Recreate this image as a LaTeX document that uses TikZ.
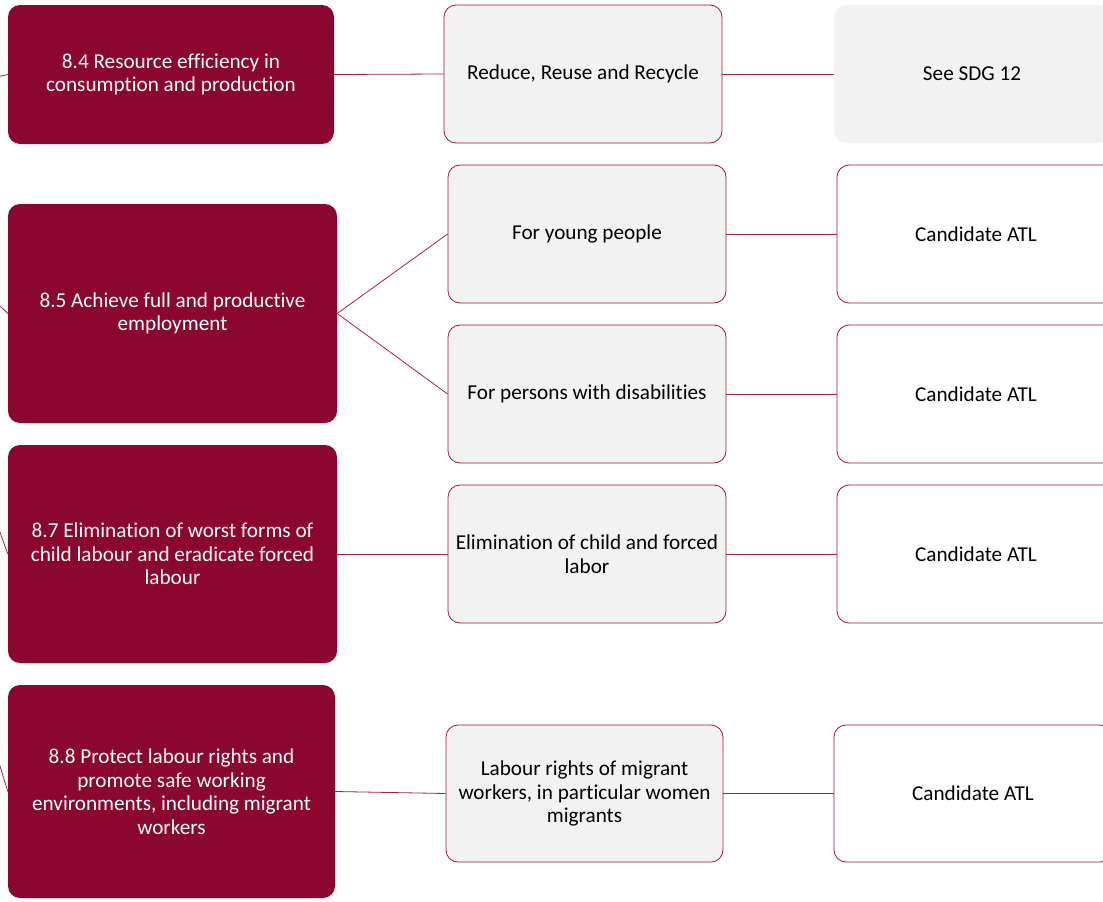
\documentclass[tikz,border=0pt]{standalone}
\usepackage{fontspec}
\setmainfont[Ligatures=NoCommon]{Carlito}
\definecolor{wine}{HTML}{8C0730}
\definecolor{lnk}{HTML}{A3223F}
\definecolor{edge}{HTML}{9B1B30}
\definecolor{pale}{HTML}{F2F2F2}
\tikzset{
  base/.style={rounded corners=12pt, align=center, inner sep=2pt,
    font=\fontsize{21.2}{23.5}\selectfont},
  dark/.style={base, fill=wine, text=white, draw=none},
  mid/.style={base, fill=pale, draw=edge, line width=0.8pt, text=black},
  see/.style={base, fill=pale, draw=none, text=black},
  cand/.style={base, fill=white, draw=edge, line width=0.8pt, text=black},
  link/.style={draw=lnk, line width=0.8pt},
}
\begin{document}
\begin{tikzpicture}[x=1pt,y=-1pt]
\useasboundingbox (0,0) rectangle (1103,902);
\clip (0,0) rectangle (1103,902);
% left column
\node[dark, minimum width=326pt, minimum height=139pt] (t84) at (171,74.5) {8.4 Resource efficiency in\\consumption and production};
\node[dark, minimum width=329pt, minimum height=219pt] (t85) at (172.5,313.5) {8.5 Achieve full and productive\\employment};
\node[dark, minimum width=329pt, minimum height=218pt] (t87) at (172.5,554) {8.7 Elimination of worst forms of\\child labour and eradicate forced\\labour};
\node[dark, minimum width=327pt, minimum height=213pt] (t88) at (171.5,791.5) {8.8 Protect labour rights and\\promote safe working\\environments, including migrant\\workers};
% middle column
\node[mid, minimum width=278pt, minimum height=138pt] (m84) at (583,74) {Reduce, Reuse and Recycle};
\node[mid, minimum width=278pt, minimum height=138pt] (m85a) at (587,234) {For young people};
\node[mid, minimum width=278pt, minimum height=138pt] (m85b) at (587,394) {For persons with disabilities};
\node[mid, minimum width=278pt, minimum height=138pt] (m87) at (587,554) {Elimination of child and forced\\labor};
\node[mid, minimum width=277pt, minimum height=137pt] (m88) at (584.5,793.5) {Labour rights of migrant\\workers, in particular women\\migrants};
% right column
\node[see, minimum width=276pt, minimum height=138pt] (r84) at (972,74) {See SDG 12};
\node[cand, minimum width=278pt, minimum height=138pt] (r85a) at (976,234) {Candidate ATL};
\node[cand, minimum width=278pt, minimum height=138pt] (r85b) at (976,394) {Candidate ATL};
\node[cand, minimum width=278pt, minimum height=138pt] (r87) at (976,554) {Candidate ATL};
\node[cand, minimum width=278pt, minimum height=137pt] (r88) at (973,793.5) {Candidate ATL};
% free ends off the left edge
\coordinate (c84) at (-8,78);
\coordinate (c85) at (-8,298);
\coordinate (c87) at (-8,510);
\coordinate (c88) at (-8,740);
% connectors
\draw[link] (c84) -- (t84.west);
\draw[link] (c85) -- (t85.west);
\draw[link] (c87) -- (t87.west);
\draw[link] (c88) -- (t88.west);
\draw[link] (t84.east) -- (m84.west);
\draw[link] (t85.east) -- (m85a.west);
\draw[link] (t85.east) -- (m85b.west);
\draw[link] (t87.east) -- (m87.west);
\draw[link] (t88.east) -- (m88.west);
\draw[link] (m84.east) -- (r84.west);
\draw[link] (m85a.east) -- (r85a.west);
\draw[link] (m85b.east) -- (r85b.west);
\draw[link] (m87.east) -- (r87.west);
\draw[link] (m88.east) -- (r88.west);
\end{tikzpicture}
\end{document}
